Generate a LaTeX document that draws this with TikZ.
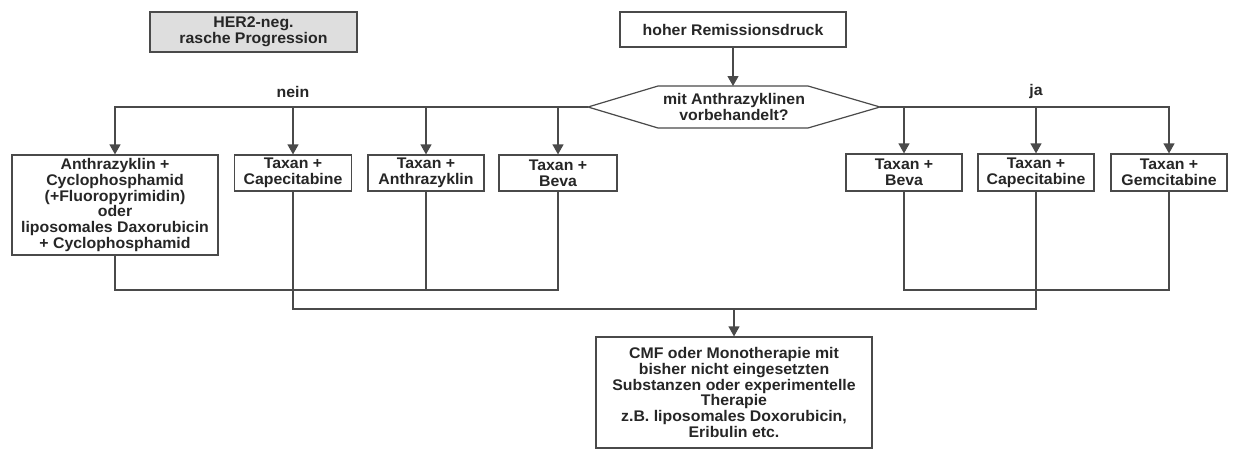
\documentclass[tikz,border=0pt]{standalone}
\usepackage{fontspec}
\setmainfont{Liberation Sans}[FakeStretch=1.03]
\usetikzlibrary{arrows.meta,calc}
\definecolor{ink}{HTML}{262626}
\definecolor{edge}{HTML}{4A4A4A}
\definecolor{shade}{HTML}{DEDEDE}

\begin{document}
\begin{tikzpicture}[x=1pt,y=-1pt,
  txt/.style={text=ink, font=\bfseries\fontsize{15.4}{15.7}\selectfont, align=center},
  box/.style={txt, draw=edge, line width=1.2pt, inner sep=0pt},
  link/.style={draw=edge, line width=1.2pt},
  arr/.style={link, -{Triangle[width=11pt,length=10pt]}}]

\useasboundingbox (0,0) rectangle (1233,450);
\fill[white] (0,0) rectangle (1233,450);

% header boxes
\node[box, fill=shade, minimum width=207pt, minimum height=40pt] (her) at (253.5,32) {HER2-neg.\\rasche Progression};
\node[box, minimum width=226pt, minimum height=35pt] (hoh) at (733,29.5) {hoher Remissionsdruck};

% decision hexagon
\node[txt] (dec) at (734,107) {mit Anthrazyklinen\\vorbehandelt?};
\coordinate (decL) at (588,107);
\coordinate (decR) at (880,107);
\coordinate (decT) at (733,86);
\draw[link] (decL) -- (658,86) -- (808,86) -- (decR) -- (808,128) -- (658,128) -- cycle;

% branch labels
\node[txt] (nein) at (293,92) {nein};
\node[txt] (ja) at (1036,92) {ja};

% "nein" therapies
\node[box, minimum width=206pt, minimum height=100pt] (b1) at (115,205)
  {Anthrazyklin +\\Cyclophosphamid\\(+Fluoropyrimidin)\\oder\\liposomales Daxorubicin\\+ Cyclophosphamid};
\node[box, minimum width=117pt, minimum height=36pt] (b2) at (293,173) {Taxan +\\Capecitabine};
\node[box, minimum width=116pt, minimum height=36pt] (b3) at (426,173) {Taxan +\\Anthrazyklin};
\node[box, minimum width=118pt, minimum height=36pt] (b4) at (558,173) {Taxan +\\Beva};

% "ja" therapies
\node[box, minimum width=116pt, minimum height=37pt] (b5) at (904,172.5) {Taxan +\\Beva};
\node[box, minimum width=116pt, minimum height=37pt] (b6) at (1036,172.5) {Taxan +\\Capecitabine};
\node[box, minimum width=116pt, minimum height=37pt] (b7) at (1169,172.5) {Taxan +\\Gemcitabine};

% follow-up therapy
\node[box, minimum width=276pt, minimum height=111pt] (fin) at (734,392.5)
  {CMF oder Monotherapie mit\\bisher nicht eingesetzten\\Substanzen oder experimentelle\\Therapie\\z.B. liposomales Doxorubicin,\\Eribulin etc.};

% connectors from the top
\draw[arr] (hoh.south) -- (decT);
\draw[arr] (decL) -| (b1.north);
\draw[arr] (b2.north |- decL) -- (b2.north);
\draw[arr] (b3.north |- decL) -- (b3.north);
\draw[arr] (b4.north |- decL) -- (b4.north);
\draw[arr] (decR) -| (b7.north);
\draw[arr] (b5.north |- decR) -- (b5.north);
\draw[arr] (b6.north |- decR) -- (b6.north);

% collecting lines
\coordinate (busA) at (0,290);
\coordinate (busB) at (0,309);
\draw[link] (b1.south) |- (b4.south |- busA) -- (b4.south);
\draw[link] (b3.south) -- (b3.south |- busA);
\draw[link] (b5.south) |- (b7.south |- busA) -- (b7.south);
\draw[link] (b2.south) |- (b6.south |- busB) -- (b6.south);
\draw[arr] (fin.north |- busB) -- (fin.north);
\end{tikzpicture}
\end{document}
